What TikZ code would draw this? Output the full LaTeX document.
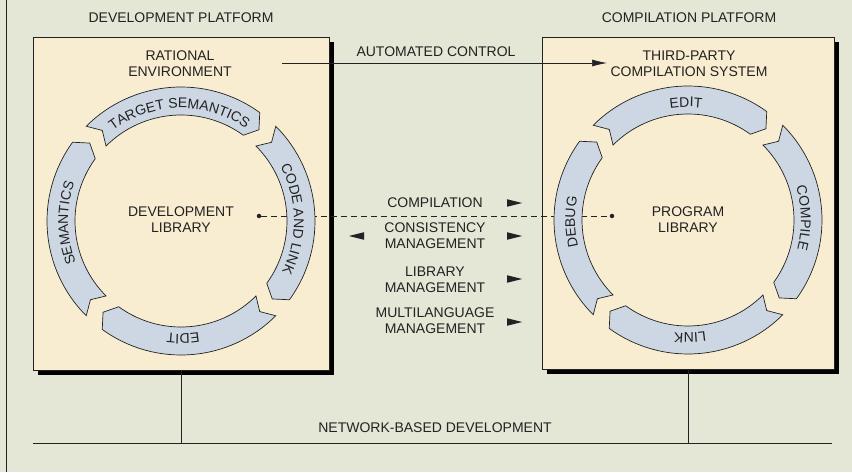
\documentclass[tikz,border=0pt]{standalone}
\usepackage{fontspec}
\setmainfont{Liberation Sans}
\usepackage{tikz}
\usetikzlibrary{arrows.meta}
\usetikzlibrary{decorations.text}
\usetikzlibrary{shadows}
\definecolor{paper}{RGB}{228,230,214}
\definecolor{platform}{RGB}{249,237,209}
\definecolor{band}{RGB}{204,215,227}
\definecolor{ink}{RGB}{34,34,34}
\tikzset{
    ctlarrow/.style={-{Latex[length=15pt,width=7pt]}, line width=0.7pt, draw=ink},
    tiphead/.style={fill=ink},
    platbox/.style={draw=ink, fill=platform, line width=0.7pt,
        drop shadow={shadow xshift=5pt, shadow yshift=-5pt, fill=black, opacity=1}},
    arcband/.style={draw=ink, fill=band, line width=0.7pt},
    txt/.style={text=ink, align=center, font=\fontsize{14}{16}\selectfont},
    libdot/.style={shape=circle, fill=ink, inner sep=0pt, minimum size=4.5pt}
}
\newcommand{\arcfont}{\fontsize{14}{14}\selectfont\color{ink}}
\newcommand{\cyclearc}[3]{%
    \draw[arcband, shift={(#1)}]
        (#2:134) arc[start angle=#2, end angle=#2-81, radius=134]
        -- (#2-85.5:120) -- (#2-81:106)
        arc[start angle=#2-81, end angle=#2, radius=106]
        -- (#2-4:120) -- cycle;
    \path[shift={(#1)}, decorate,
        decoration={text along path, text align=center, text={|\arcfont|#3}}]
        (#2-2:113) arc[start angle=#2-2, end angle=#2-86, radius=113];
}

\begin{document}
\begin{tikzpicture}[x=1pt, y=1pt]
    \path[use as bounding box, fill=paper] (0,0) rectangle (852,472);
    \draw[ink, line width=0.7pt] (6.5,0) -- (6.5,472);

    \node[txt] (devtitle) at (181,454) {DEVELOPMENT PLATFORM};
    \node[platbox, minimum width=296pt, minimum height=333pt] (devbox) at (181,268.5) {};
    \node[txt] (rational) at (180,408) {RATIONAL\\ENVIRONMENT};
    \node[txt] (devlib) at (181,252) {DEVELOPMENT\\LIBRARY};
    \coordinate (devcen) at (181,251);

    \node[txt] (comptitle) at (689,454) {COMPILATION PLATFORM};
    \node[platbox, minimum width=292pt, minimum height=332pt] (compbox) at (688,269) {};
    \node[txt] (thirdparty) at (689,408.5) {THIRD-PARTY\\COMPILATION SYSTEM};
    \node[txt] (proglib) at (688,252) {PROGRAM\\LIBRARY};
    \coordinate (progcen) at (688,252);

    \node[libdot] (devdot) at (259,256) {};
    \node[libdot] (progdot) at (612,256) {};
    \draw[ink, line width=0.8pt, dash pattern=on 6pt off 4pt] (devdot) -- (progdot);

    \cyclearc{devcen}{135}{TARGET SEMANTICS}
    \cyclearc{devcen}{45}{CODE AND LINK}
    \cyclearc{devcen}{-45}{EDIT}
    \cyclearc{devcen}{-135}{SEMANTICS}

    \cyclearc{progcen}{135}{EDIT}
    \cyclearc{progcen}{45}{COMPILE}
    \cyclearc{progcen}{-45}{LINK}
    \cyclearc{progcen}{-135}{DEBUG}

    \node[txt] (automated) at (436,420) {AUTOMATED CONTROL};
    \coordinate (ctlstart) at (282,409);
    \coordinate (ctlend) at (607,409);
    \draw [ctlarrow] (ctlstart) -- (ctlend);

    \node[txt] (compilation) at (435,269) {COMPILATION};
    \node[txt] (consistency) at (435,236) {CONSISTENCY\\MANAGEMENT};
    \node[txt] (library) at (435,192.5) {LIBRARY\\MANAGEMENT};
    \node[txt] (multilang) at (435,151) {MULTILANGUAGE\\MANAGEMENT};

    \fill[tiphead] (522,269) -- ++(-15,3.8) -- ++(0,-7.6) -- cycle;
    \fill[tiphead] (522,236) -- ++(-15,3.8) -- ++(0,-7.6) -- cycle;
    \fill[tiphead] (522,193) -- ++(-15,3.8) -- ++(0,-7.6) -- cycle;
    \fill[tiphead] (522,150) -- ++(-15,3.8) -- ++(0,-7.6) -- cycle;
    \fill[tiphead] (349,236) -- ++(15,3.8) -- ++(0,-7.6) -- cycle;

    \node[txt] (network) at (435,44) {NETWORK-BASED DEVELOPMENT};
    \coordinate (netwest) at (33,29);
    \coordinate (neteast) at (832,29);
    \draw[ink, line width=0.7pt] (netwest) -- (neteast);
    \draw[ink, line width=0.7pt] (devbox.south) -- (devbox.south |- netwest);
    \draw[ink, line width=0.7pt] (compbox.south) -- (compbox.south |- netwest);
\end{tikzpicture}
\end{document}
